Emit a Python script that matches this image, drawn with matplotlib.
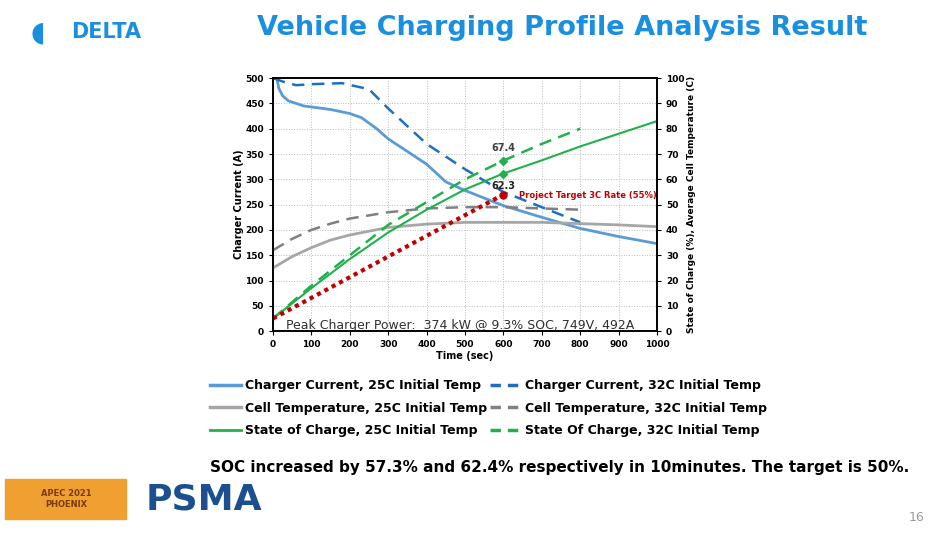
import matplotlib.pyplot as plt
from matplotlib.lines import Line2D

t_cc25 = [0, 10, 15, 25, 40, 80, 150, 200, 230, 270, 300, 350, 400, 450, 500, 600, 700, 800, 900, 1000]
cc25 = [500, 500, 480, 465, 455, 445, 438, 430, 422, 400, 380, 355, 330, 295, 278, 248, 225, 203, 187, 173]
t_cc32 = [0, 30, 60, 100, 180, 250, 300, 400, 500, 600, 700, 800]
cc32 = [500, 492, 486, 488, 490, 478, 440, 370, 320, 275, 245, 215]
t_full = [0, 50, 100, 150, 200, 300, 400, 500, 600, 700, 800, 900, 1000]
ct25 = [25, 29.5, 33, 36, 38, 41, 42.3, 43, 43, 43, 42.5, 42, 41.3]
t_800 = [0, 50, 100, 150, 200, 300, 400, 500, 600, 700, 800]
ct32 = [32, 36.5, 40, 42.5, 44.5, 47, 48.5, 49, 49, 48.5, 48]
t_soc = [0, 100, 200, 300, 400, 500, 600, 700, 800, 900, 1000]
soc25 = [5, 17, 28.5, 39, 48, 56, 62.3, 67.5, 73, 78, 83]
t_soc32 = [0, 100, 200, 300, 400, 500, 600, 700, 800]
soc32 = [5, 18, 30, 42, 51, 60, 67.4, 74, 80]
t_tgt = [0, 600]
tgt = [5, 54]

fig = plt.figure(figsize=(9.48, 5.35), dpi=100)
ax = fig.add_axes([0.288, 0.381, 0.405, 0.473])
ax2 = ax.twinx()
blue = '#5b9bd5'; dblue = '#1f6fc0'; green = '#22b04b'
ax.plot(t_cc25, cc25, color=blue, lw=2)
ax.plot(t_cc32, cc32, color=dblue, lw=1.8, ls=(0, (5, 3)))
ax2.plot(t_full, ct25, color='#a6a6a6', lw=2)
ax2.plot(t_800, ct32, color='#808080', lw=1.8, ls=(0, (5, 3)))
ax2.plot(t_soc, soc25, color=green, lw=1.5)
ax2.plot(t_soc32, soc32, color=green, lw=1.8, ls=(0, (5, 3)))
ax2.plot(t_tgt, tgt, color='#c00000', lw=3, ls=(0, (1, 1)))
ax2.plot([600], [tgt[1]], 'o', color='#c00000', ms=5)
ax2.plot([600], [soc25[6]], 'D', color=green, ms=4)
ax2.plot([600], [soc32[6]], 'D', color=green, ms=4)
ax2.text(600, 71, '67.4', ha='center', fontsize=7, fontweight='bold', color='#404040')
ax2.text(600, 56, '62.3', ha='center', fontsize=7, fontweight='bold', color='#202020')
ax2.text(640, 52.5, 'Project Target 3C Rate (55%)', fontsize=6, fontweight='bold', color='#c00000')
ax.text(35, 5, 'Peak Charger Power:  374 kW @ 9.3% SOC, 749V, 492A', fontsize=9, color='#303030')
ax.set_xlim(0, 1000); ax.set_ylim(0, 500); ax2.set_ylim(0, 100)
ax.set_xticks(range(0, 1001, 100)); ax.set_yticks(range(0, 501, 50)); ax2.set_yticks(range(0, 101, 10))
for a in (ax, ax2):
    a.tick_params(labelsize=6.5, length=3)
    for l in a.get_xticklabels() + a.get_yticklabels():
        l.set_fontweight('bold')
ax.grid(True, ls=':', color='#bbbbbb', lw=0.7)
ax.set_xlabel('Time (sec)', fontsize=7, fontweight='bold', labelpad=1)
ax.set_ylabel('Charger Current (A)', fontsize=7, fontweight='bold', labelpad=1)
ax2.set_ylabel('State of Charge (%), Average Cell Temperature (C)', fontsize=6.5, fontweight='bold', labelpad=2)
for a in (ax, ax2):
    for s in a.spines.values():
        s.set_linewidth(1.2)

handles = [Line2D([], [], color=blue, lw=2.5), Line2D([], [], color=dblue, lw=2.5, ls=(0, (3, 2))),
           Line2D([], [], color='#a6a6a6', lw=2.5), Line2D([], [], color='#808080', lw=2.5, ls=(0, (3, 2))),
           Line2D([], [], color=green, lw=2), Line2D([], [], color=green, lw=2.5, ls=(0, (3, 2)))]
labels = ['Charger Current, 25C Initial Temp', 'Charger Current, 32C Initial Temp',
          'Cell Temperature, 25C Initial Temp', 'Cell Temperature, 32C Initial Temp',
          'State of Charge, 25C Initial Temp', 'State Of Charge, 32C Initial Temp']
order = [0, 2, 4, 1, 3, 5]
fig.legend([handles[i] for i in order], [labels[i] for i in order], loc='center',
           bbox_to_anchor=(0.515, 0.237), ncol=2, frameon=False,
           prop={'size': 9, 'weight': 'bold'}, handlelength=2.5, columnspacing=0.2,
           labelspacing=0.75, handletextpad=0.3)

fig.text(0.593, 0.948, 'Vehicle Charging Profile Analysis Result', ha='center', va='center',
         fontsize=19.5, fontweight='bold', color='#1a8fe0')
fig.text(0.075, 0.94, 'DELTA', ha='left', va='center', fontsize=15, fontweight='bold', color='#1a8fe0')
fig.text(0.04, 0.94, '◖', ha='center', va='center', fontsize=20, color='#1a8fe0')
fig.text(0.59, 0.127, 'SOC increased by 57.3% and 62.4% respectively in 10minutes. The target is 50%.',
         ha='center', va='center', fontsize=11, fontweight='bold', color='black')
fig.text(0.975, 0.02, '16', ha='right', va='bottom', fontsize=9, color='#999999')
fig.patches.append(plt.Rectangle((0.005, 0.03), 0.128, 0.075, transform=fig.transFigure, color='#f0a030'))
fig.text(0.07, 0.067, 'APEC 2021\nPHOENIX', ha='center', va='center', fontsize=6, fontweight='bold', color='#7a3a10')
fig.text(0.215, 0.067, 'PSMA', ha='center', va='center', fontsize=26, fontweight='bold', color='#1b4f8f')
fig.savefig('out.png', dpi=100)
